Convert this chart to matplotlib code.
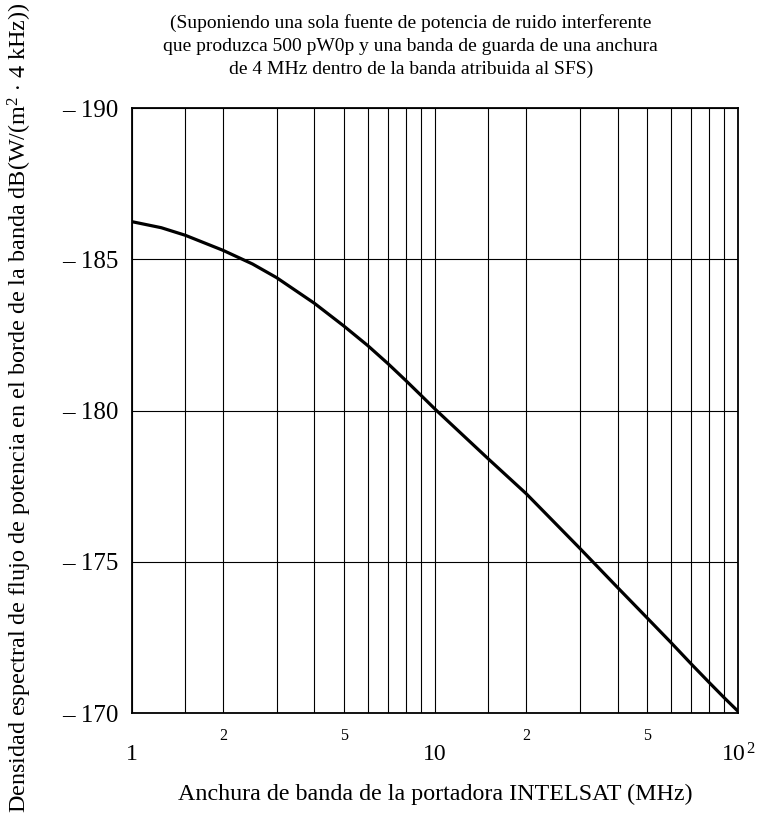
import matplotlib
matplotlib.use("Agg")
import matplotlib.pyplot as plt
from matplotlib.ticker import FixedLocator, FixedFormatter

plt.rcParams["font.family"] = ["Liberation Serif", "DejaVu Serif"]
plt.rcParams["mathtext.fontset"] = "custom"
plt.rcParams["mathtext.rm"] = "Liberation Serif"
plt.rcParams["mathtext.it"] = "Liberation Serif:italic"

# bandwidth (MHz) and edge-of-band pfd (dB(W/(m2 . 4 kHz)))
bandwidth = [1, 1.25, 1.5, 2, 2.5, 3, 4, 5, 6, 7, 8, 9, 10,
             15, 20, 30, 40, 50, 60, 70, 80, 90, 100]
pfd = [-186.25, -186.05, -185.8, -185.3, -184.85, -184.4, -183.55, -182.8,
       -182.15, -181.55, -181.0, -180.5, -180.05, -178.4, -177.25, -175.45,
       -174.15, -173.15, -172.33, -171.62, -171.02, -170.5, -170.05]

major_x = [1, 10, 100]
major_x_labels = ["1", "10", r"$\mathregular{10^{\,2}}$"]
minor_x = [1.5, 2, 3, 4, 5, 6, 7, 8, 9, 15, 20, 30, 40, 50, 60, 70, 80, 90]
minor_x_labels = ["", "2", "", "", "5", "", "", "", "",
                  "", "2", "", "", "5", "", "", "", ""]
y_ticks = [-190, -185, -180, -175, -170]
y_labels = ["\u2013 190", "\u2013 185", "\u2013 180", "\u2013 175", "\u2013 170"]

title = ("(Suponiendo una sola fuente de potencia de ruido interferente\n"
         "que produzca 500 pW0p y una banda de guarda de una anchura\n"
         "de 4 MHz dentro de la banda atribuida al SFS)")
xlabel = "Anchura de banda de la portadora INTELSAT (MHz)"
ylabel = (r"Densidad espectral de flujo de potencia en el borde de la banda "
          r"dB(W/(m$^{\mathregular{2}}$ $\cdot$ 4 kHz))")

fig = plt.figure(figsize=(7.58, 8.14), dpi=100)
ax = fig.add_axes([0.174, 0.124, 0.8, 0.743])

ax.plot(bandwidth, pfd, color="black", linewidth=2.3, solid_joinstyle="round")

ax.set_xscale("log")
ax.set_xlim(1, 100)
ax.set_ylim(-170, -190)

ax.xaxis.set_major_locator(FixedLocator(major_x))
ax.xaxis.set_major_formatter(FixedFormatter(major_x_labels))
ax.xaxis.set_minor_locator(FixedLocator(minor_x))
ax.xaxis.set_minor_formatter(FixedFormatter(minor_x_labels))
ax.set_yticks(y_ticks)
ax.set_yticklabels(y_labels)

ax.tick_params(axis="x", which="major", length=0, pad=22, labelsize=17)
ax.tick_params(axis="x", which="minor", length=0, pad=11, labelsize=11.5)
ax.tick_params(axis="y", length=0, pad=10, labelsize=18)

ax.grid(True, which="both", axis="x", color="black", linewidth=0.8)
ax.grid(True, which="major", axis="y", color="black", linewidth=0.8)
for s in ax.spines.values():
    s.set_linewidth(1.3)

fig.text(0.542, 0.983, title, ha="center", va="top", fontsize=14,
         linespacing=1.45)
fig.text(0.574, 0.017, xlabel, ha="center", va="baseline", fontsize=17.3)
fig.text(0.026, 0.499, ylabel, ha="center", va="center", rotation=90,
         fontsize=17.4)

fig.savefig("out.png", dpi=100)
